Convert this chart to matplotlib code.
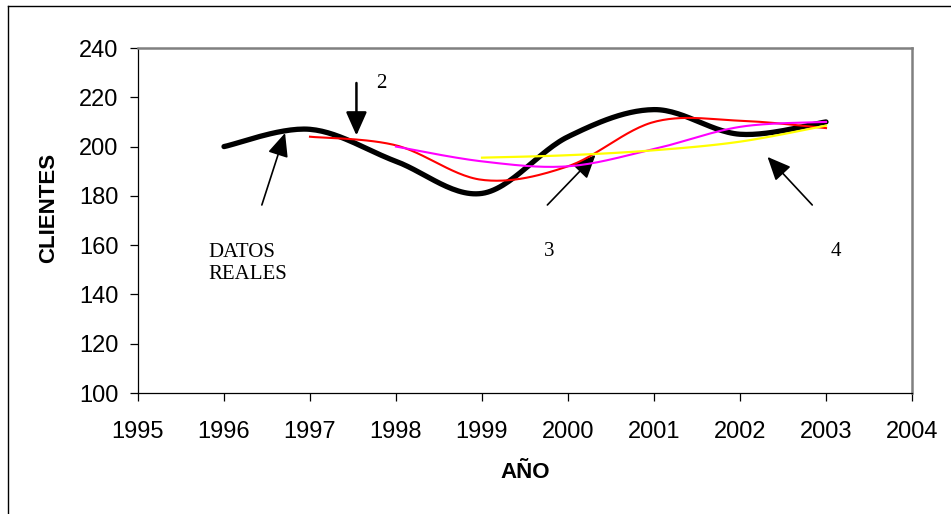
import numpy as np
import matplotlib.pyplot as plt
from matplotlib.lines import Line2D

# datos
anios = [1996, 1997, 1998, 1999, 2000, 2001, 2002, 2003]
reales = [200, 207, 194, 181, 204, 215, 205, 210]

anios_2 = [1997, 1998, 1999, 2000, 2001, 2002, 2003]
serie_2 = [204, 200.5, 186.5, 192, 210, 210.5, 207.5]

anios_3 = [1998, 1999, 2000, 2001, 2002, 2003]
serie_3 = [200, 194, 192, 199, 208, 210]

anios_4 = [1999, 2000, 2001, 2002, 2003]
serie_4 = [195.5, 196.5, 198.5, 202, 208.5]


def suavizar(x, y, n=30):
    # curva suave tipo Excel (Catmull-Rom) que pasa por los puntos
    x = np.asarray(x, float)
    y = np.asarray(y, float)
    px = np.concatenate([[x[0]], x, [x[-1]]])
    py = np.concatenate([[y[0]], y, [y[-1]]])
    xs, ys = [], []
    t = np.linspace(0, 1, n)
    for i in range(1, len(px) - 2):
        p0, p1, p2, p3 = (np.array([px[j], py[j]]) for j in (i - 1, i, i + 1, i + 2))
        c1 = p1 + (p2 - p0) / 6
        c2 = p2 - (p3 - p1) / 6
        b = ((1 - t) ** 3)[:, None] * p1 + (3 * (1 - t) ** 2 * t)[:, None] * c1 \
            + (3 * (1 - t) * t ** 2)[:, None] * c2 + (t ** 3)[:, None] * p2
        xs.extend(b[:, 0])
        ys.extend(b[:, 1])
    return xs, ys


fig = plt.figure(figsize=(9.51, 5.14), dpi=100)
ax = fig.add_axes([0.1451, 0.2354, 0.8139, 0.6712])

ax.plot(*suavizar(anios, reales), color='black', lw=3.8, solid_capstyle='round', zorder=3)
ax.plot(*suavizar(anios_2, serie_2), color='#ff0000', lw=1.5, zorder=4)
ax.plot(*suavizar(anios_3, serie_3), color='#ff00ff', lw=1.5, zorder=4)
ax.plot(*suavizar(anios_4, serie_4), color='#ffff00', lw=1.6, zorder=4)

ax.set_xlim(1995, 2004)
ax.set_ylim(100, 240)
ax.set_xticks(range(1995, 2005))
ax.set_yticks(range(100, 241, 20))
ax.tick_params(direction='out', length=6, width=0.9, labelsize=17, colors='black')
ax.tick_params(axis='x', pad=14)
ax.tick_params(axis='y', pad=8)
for lab in ax.get_xticklabels() + ax.get_yticklabels():
    lab.set_family('Liberation Sans')

for s in ['top', 'right']:
    ax.spines[s].set_color('#808080')
    ax.spines[s].set_linewidth(1.8)
for s in ['left', 'bottom']:
    ax.spines[s].set_color('black')
    ax.spines[s].set_linewidth(0.9)

fig.text(0.0515, 0.595, 'CLIENTES', rotation=90, ha='center', va='center',
         fontsize=16, fontweight='bold', family='Liberation Sans')
fig.text(0.552, 0.08, 'AÑO', ha='center', va='center',
         fontsize=16, fontweight='bold', family='Liberation Sans')

# anotaciones con flechas
flecha = dict(arrowstyle='-|>,head_length=0.9,head_width=0.4', color='black', lw=1.2,
              shrinkA=0, shrinkB=0, mutation_scale=16)
txt = dict(family='Liberation Serif', fontsize=15, color='black')

ax.annotate('', xy=(1996.71, 205.5), xytext=(1996.44, 176.3), arrowprops=flecha)
ax.text(1995.82, 152.6, 'DATOS\nREALES', ha='left', va='center', linespacing=1.2, **txt)

ax.annotate('', xy=(1997.54, 204.5), xytext=(1997.54, 225.8),
            arrowprops=dict(flecha, lw=1.8))
ax.text(1997.83, 225.8, '2', ha='center', va='center', **txt)

ax.annotate('', xy=(2000.32, 196.6), xytext=(1999.76, 176.3), arrowprops=flecha)
ax.text(1999.78, 157.4, '3', ha='center', va='center', **txt)

ax.annotate('', xy=(2002.32, 195.8), xytext=(2002.84, 176.3), arrowprops=flecha)
ax.text(2003.12, 157.4, '4', ha='center', va='center', **txt)

# marco exterior (solo arriba e izquierda visibles)
fig.add_artist(Line2D([0.008, 0.008], [0.0, 0.989], color='black', lw=1.0,
                      transform=fig.transFigure))
fig.add_artist(Line2D([0.008, 1.0], [0.989, 0.989], color='black', lw=1.0,
                      transform=fig.transFigure))

fig.savefig('out.png', dpi=100)
